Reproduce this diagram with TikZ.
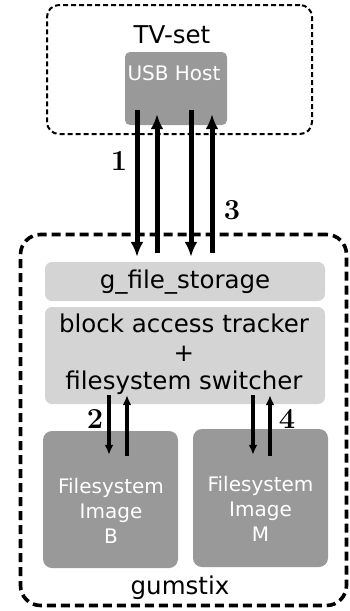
\documentclass[tikz,border=0pt]{standalone}
\usepackage{fontspec}
\setsansfont{DejaVu Sans}
\usetikzlibrary{arrows.meta}
\definecolor{darkbox}{HTML}{999999}
\definecolor{lightbox}{HTML}{D4D4D4}
\tikzset{
  framebox/.style={draw=black, rounded corners=12pt, inner sep=0pt},
  darkfill/.style={fill=darkbox, draw=none, rounded corners=6pt, inner sep=0pt},
  lightfill/.style={fill=lightbox, draw=none, rounded corners=7pt, inner sep=0pt},
  bigtxt/.style={font=\sffamily\fontsize{24.5}{28.5}\selectfont, inner sep=0pt},
  smalltxt/.style={font=\sffamily\fontsize{20}{25}\selectfont, text=white, inner sep=0pt},
  numlbl/.style={font=\rmfamily\bfseries\fontsize{29}{29}\selectfont, inner sep=0pt},
  bigarrow/.style={line width=5pt, -{Latex[length=15pt,width=13pt]}},
  smallarrow/.style={line width=3.2pt, -{Latex[length=10pt,width=9pt]}},
}
\begin{document}
\begin{tikzpicture}[x=1pt,y=-1pt]
\useasboundingbox (0,0) rectangle (349,611);
% TV-set frame
\node[framebox, line width=2pt, dash pattern=on 5pt off 3pt, minimum width=265pt, minimum height=129pt] (tv) at (179.5,69.5) {};
\node[bigtxt, anchor=base] (tvlbl) at (172,43) {TV-set};
\node[darkfill, rounded corners=5pt, minimum width=102pt, minimum height=73pt] (usb) at (176,88.5) {};
\node[smalltxt, anchor=base] (usblbl) at (174,80) {USB Host};
% gumstix frame
\node[framebox, rounded corners=20pt, line width=3.6pt, dash pattern=on 9pt off 5pt, minimum width=326pt, minimum height=371pt] (gum) at (183.5,420) {};
\node[bigtxt, anchor=base] (gumlbl) at (180,594) {gumstix};
% inner boxes
\node[lightfill, minimum width=280pt, minimum height=39pt] (gfs) at (185,281.5) {};
\node[bigtxt, anchor=base] (gfslbl) at (185,288) {g\_file\_storage};
\node[lightfill, minimum width=280pt, minimum height=97pt] (blk) at (185,355.5) {};
\node[bigtxt, align=center, anchor=north] (blklbl) at (184,314) {block access tracker\\+\\filesystem switcher};
\node[darkfill, rounded corners=9pt, minimum width=135pt, minimum height=137pt] (fsb) at (110.5,499.5) {};
\node[smalltxt, align=center] (fsblbl) at (111,511) {Filesystem\\Image\\B};
\node[darkfill, rounded corners=9pt, minimum width=135pt, minimum height=138pt] (fsm) at (260.5,498) {};
\node[smalltxt, align=center] (fsmlbl) at (260.5,509) {Filesystem\\Image\\M};
% arrows TV <-> gumstix
\draw[bigarrow] ([xshift=-39pt,yshift=15pt]usb.south) -- ([xshift=-48pt,yshift=5pt]gfs.north);
\draw[bigarrow] ([xshift=-28pt,yshift=9pt]gfs.north) -- ([xshift=-19pt,yshift=11pt]usb.south);
\draw[bigarrow] ([xshift=15pt,yshift=15pt]usb.south) -- ([xshift=6pt,yshift=5pt]gfs.north);
\draw[bigarrow] ([xshift=27pt,yshift=9pt]gfs.north) -- ([xshift=36pt,yshift=11pt]usb.south);
\node[numlbl] (n1) at (119,161) {1};
\node[numlbl] (n3) at (232,210) {3};
% arrows tracker <-> images
\draw[smallarrow] ([xshift=-76pt,yshift=9pt]blk.south) -- ([xshift=-1.5pt,yshift=-24pt]fsb.north);
\draw[smallarrow] ([xshift=16.5pt,yshift=-25pt]fsb.north) -- ([xshift=-58pt,yshift=9pt]blk.south);
\draw[smallarrow] ([xshift=68pt,yshift=9pt]blk.south) -- ([xshift=-7.5pt,yshift=-26pt]fsm.north);
\draw[smallarrow] ([xshift=9.5pt,yshift=-27pt]fsm.north) -- ([xshift=85pt,yshift=9pt]blk.south);
\node[numlbl] (n2) at (95,419) {2};
\node[numlbl] (n4) at (287,419) {4};
\end{tikzpicture}
\end{document}
